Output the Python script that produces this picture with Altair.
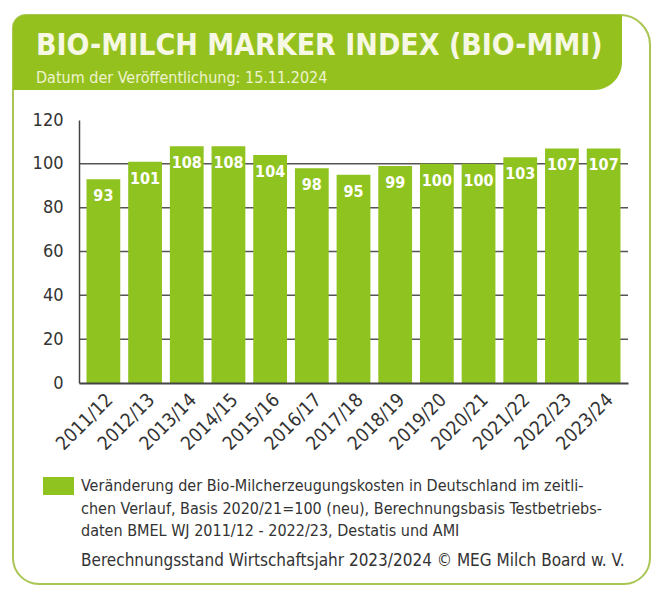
import altair as alt
import pandas as pd

# ---- data ----
years = ["2011/12", "2012/13", "2013/14", "2014/15", "2015/16", "2016/17", "2017/18",
         "2018/19", "2019/20", "2020/21", "2021/22", "2022/23", "2023/24"]
values = [93, 101, 108, 108, 104, 98, 95, 99, 100, 100, 103, 107, 107]
grid_values = [20, 40, 60, 80, 100]
y_ticks = [0, 20, 40, 60, 80, 100, 120]

title_text = "BIO-MILCH MARKER INDEX (BIO-MMI)"
subtitle_text = "Datum der Veröffentlichung: 15.11.2024"
legend_lines = [
    "Veränderung der Bio-Milcherzeugungskosten in Deutschland im zeitli-",
    "chen Verlauf, Basis 2020/21=100 (neu), Berechnungsbasis Testbetriebs-",
    "daten BMEL WJ 2011/12 - 2022/23, Destatis und AMI",
]
footer_text = "Berechnungsstand Wirtschaftsjahr 2023/2024 © MEG Milch Board w. V."

FONT = "DejaVu Sans Condensed, Liberation Sans Narrow, DejaVu Sans"
GREEN = "#8fc31f"
HEAD_GREEN = "#95c11f"
BORDER = "#a9c653"
W, H = 549, 263

df = pd.DataFrame({"year": years, "value": values})
grid_df = pd.DataFrame({"v": grid_values})
one = pd.DataFrame({"k": [0]})

xenc = alt.X("year:N", sort=years, title=None,
             scale=alt.Scale(paddingInner=0.19, paddingOuter=0.18),
             axis=alt.Axis(labelAngle=-45, labelFontSize=19, labelColor="#333",
                           labelFont=FONT, ticks=False, domainColor="#444",
                           domainWidth=2, labelPadding=7, zindex=2))
yscale = alt.Scale(domain=[0, 120], nice=False)

border = alt.Chart(one).mark_rect(
    fill="white", stroke=BORDER, strokeWidth=2,
    cornerRadiusTopLeft=13, cornerRadiusTopRight=30,
    cornerRadiusBottomLeft=26, cornerRadiusBottomRight=26,
).encode(x=alt.value(-66), x2=alt.value(571), y=alt.value(-105), y2=alt.value(464))

header = alt.Chart(one).mark_rect(
    fill=HEAD_GREEN, cornerRadiusTopLeft=13, cornerRadiusBottomRight=28,
).encode(x=alt.value(-66), x2=alt.value(543), y=alt.value(-105), y2=alt.value(-30))

title = alt.Chart(one).mark_text(
    text=title_text, font=FONT, fontSize=30, fontWeight="bold", color="#f6f8e4",
    align="left", baseline="alphabetic",
).encode(x=alt.value(-43), y=alt.value(-65))

subtitle = alt.Chart(one).mark_text(
    text=subtitle_text, font=FONT, fontSize=16, color="#eef3cf",
    align="left", baseline="alphabetic",
).encode(x=alt.value(-43), y=alt.value(-37))

grid = alt.Chart(grid_df).mark_rule(color="#555", strokeWidth=1.5).encode(
    y=alt.Y("v:Q", scale=yscale), x=alt.value(0), x2=alt.value(W))

bars = alt.Chart(df).mark_bar(color=GREEN).encode(
    x=xenc,
    y=alt.Y("value:Q", scale=yscale, title=None,
            axis=alt.Axis(values=y_ticks, grid=False, ticks=False, labelFontSize=18,
                          labelColor="#333", labelFont=FONT, labelPadding=16,
                          domainColor="#444", domainWidth=1.5, zindex=2)),
)

labels = alt.Chart(df).mark_text(
    color="white", font=FONT, fontWeight="bold", fontSize=16, baseline="middle", dy=17,
).encode(x=alt.X("year:N", sort=years), y=alt.Y("value:Q", scale=yscale),
         text="value:Q")

legend_box = alt.Chart(one).mark_rect(fill=GREEN).encode(
    x=alt.value(-36), x2=alt.value(-5), y=alt.value(357), y2=alt.value(375))

legend_text = alt.Chart(one).mark_text(
    text=legend_lines, font=FONT, fontSize=16, color="#333", lineHeight=22.5,
    align="left", baseline="top",
).encode(x=alt.value(2), y=alt.value(358))

footer = alt.Chart(one).mark_text(
    text=footer_text, font=FONT, fontSize=17, color="#333",
    align="left", baseline="alphabetic",
).encode(x=alt.value(2), y=alt.value(446))

chart = alt.layer(
    border, header, title, subtitle, grid, bars, labels, legend_box, legend_text, footer
).properties(
    width=W, height=H,
    autosize=alt.AutoSizeParams(type="none"),
    padding={"left": 71, "top": 112, "right": 24, "bottom": 205},
).configure_view(stroke=None).configure(background="white")

chart.save("out.html", embed_options={"renderer": "svg", "actions": False})
